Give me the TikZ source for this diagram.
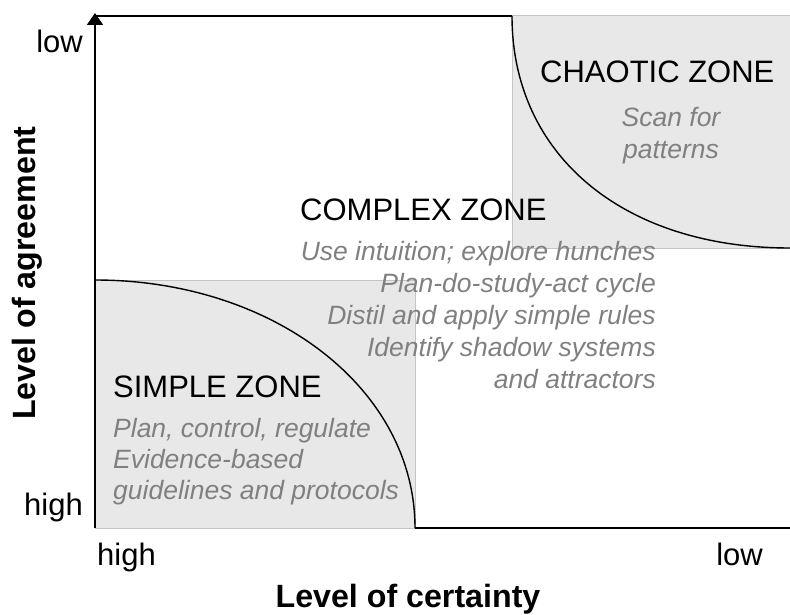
\documentclass[tikz,border=0pt]{standalone}
\usepackage{fontspec}
\setmainfont{Liberation Sans}
\usetikzlibrary{arrows.meta}
\definecolor{zonefill}{HTML}{E8E8E8}
\definecolor{zoneedge}{HTML}{C4C4C4}
\definecolor{notegray}{HTML}{808080}
\tikzset{
  zonebox/.style={fill=zonefill, draw=zoneedge, line width=1pt},
  axisline/.style={draw=black, line width=1.8pt},
  zonecurve/.style={draw=black, line width=1.4pt},
  ztitle/.style={inner sep=0pt, font=\fontsize{31}{37}\selectfont, text=black},
  znote/.style={inner sep=0pt, font=\fontsize{26.5}{32}\selectfont\itshape, text=notegray},
  axlab/.style={inner sep=0pt, font=\fontsize{31}{37}\selectfont, text=black},
  axtitle/.style={inner sep=0pt, font=\fontsize{32.2}{38}\selectfont\bfseries, text=black}
}
\begin{document}
\begin{tikzpicture}[x=1pt,y=-1pt]
\useasboundingbox (0,0) rectangle (790,615);
% key points
\coordinate (O) at (95,528);
\coordinate (ytip) at (95,13);
\coordinate (tl) at (95,16);
\coordinate (cs) at (512,16);
\coordinate (ce) at (790,248);
\coordinate (ss) at (95,280);
\coordinate (se) at (415,528);
\coordinate (xend) at (790,528);
% zones
\path[zonebox] (cs) rectangle (ce);
\path[zonebox] (ss) rectangle (se);
% curves
\draw[zonecurve] (cs) .. controls (512,155) and (623,248) .. (ce);
\draw[zonecurve] (ss) .. controls (274,280) and (415,389) .. (se);
% axes and frame
\draw[axisline] (tl) -- (cs);
\draw[axisline] (se) -- (xend);
\draw[axisline, -{Triangle[width=16pt,length=12pt]}] (O) -- (ytip);
% zone titles
\node[ztitle, anchor=base west] (chaos) at (540,83) {CHAOTIC ZONE};
\node[ztitle, anchor=base west] (complex) at (300,220) {COMPLEX ZONE};
\node[ztitle, anchor=base west] (simple) at (113,397) {SIMPLE ZONE};
% notes
\node[znote, anchor=base] (ch1) at (671,127) {Scan for};
\node[znote, anchor=base] (ch2) at (671,158) {patterns};
\node[znote, anchor=base east] (co1) at (656,260) {Use intuition; explore hunches};
\node[znote, anchor=base east] (co2) at (656,292) {Plan-do-study-act cycle};
\node[znote, anchor=base east] (co3) at (656,324) {Distil and apply simple rules};
\node[znote, anchor=base east] (co4) at (656,356) {Identify shadow systems};
\node[znote, anchor=base east] (co5) at (656,388) {and attractors};
\node[znote, anchor=base west] (si1) at (113,437) {Plan, control, regulate};
\node[znote, anchor=base west] (si2) at (113,468) {Evidence-based};
\node[znote, anchor=base west] (si3) at (113,499) {guidelines and protocols};
% axis labels
\node[axlab, anchor=base east] (ylow) at (83,53) {low};
\node[axlab, anchor=base east] (yhigh) at (83,515) {high};
\node[axlab, anchor=base west] (xhigh) at (97,565) {high};
\node[axlab, anchor=base east] (xlow) at (763,565) {low};
\node[axtitle, anchor=base] (xtitle) at (408,607) {Level of certainty};
\node[axtitle, anchor=base, rotate=90] (ytitle) at (35,273) {Level of agreement};
\end{tikzpicture}
\end{document}
